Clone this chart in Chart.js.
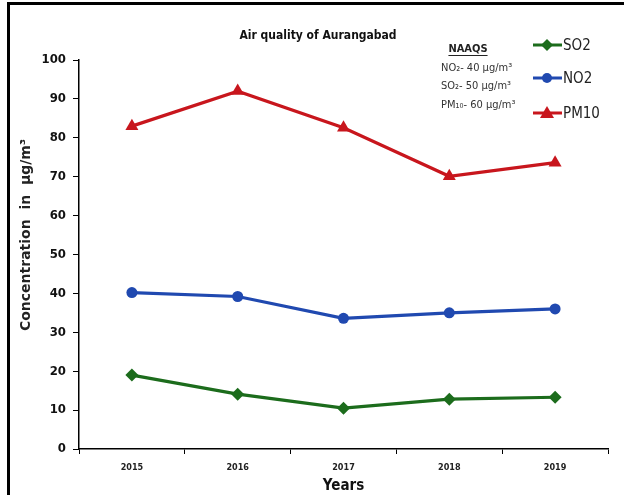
<!DOCTYPE html>
<html>
<head>
<meta charset="utf-8">
<script src="https://cdn.jsdelivr.net/npm/chart.js@4"></script>
<style>
  html, body { margin: 0; padding: 0; background: #fff; }
  #wrap { position: relative; width: 624px; height: 495px; }
  #frame { position: absolute; left: 7px; top: 2px; width: 617px; height: 493px;
           border-left: 3px solid #000; border-top: 3px solid #000; box-sizing: border-box; pointer-events: none; }
</style>
</head>
<body>
<div id="wrap">
  <canvas id="aqChart" width="624" height="495"></canvas>
  <div id="frame"></div>
</div>
<script>
const years = ['2015', '2016', '2017', '2018', '2019'];
const so2 = [19, 14.1, 10.5, 12.8, 13.3];
const no2 = [40.2, 39.2, 33.6, 35.0, 36.0];
const pm10 = [83, 92, 82.6, 70.1, 73.6];
const yTicks = [0, 100, 10];   // min, max, step
const naaqsLines = ['NO\u2082- 40 \u00b5g/m\u00b3', 'SO\u2082- 50 \u00b5g/m\u00b3', 'PM\u2081\u2080- 60 \u00b5g/m\u00b3'];

const narrow = "'Liberation Sans Narrow', 'DejaVu Sans Condensed', sans-serif";

// title, y axis title, NAAQS note and the legend in the top right corner
const extras = {
    id: 'extras',
    afterDraw(chart) {
        const ctx = chart.ctx;
        ctx.save();
        ctx.fillStyle = '#111';
        ctx.font = 'bold 12px ' + narrow;
        ctx.textAlign = 'center';
        ctx.textBaseline = 'middle';
        ctx.fillText('Air quality of Aurangabad', 318, 36);

        ctx.save();
        ctx.translate(26, 235);
        ctx.rotate(-Math.PI / 2);
        ctx.fillStyle = '#222';
        ctx.font = "bold 14px 'DejaVu Sans', sans-serif";
        ctx.fillText('Concentration  in  \u00b5g/m\u00b3', 0, 0);
        ctx.restore();

        ctx.font = 'bold 11px ' + narrow;
        ctx.fillStyle = '#222';
        ctx.fillText('NAAQS', 468, 49);
        const w = ctx.measureText('NAAQS').width;
        ctx.strokeStyle = '#222';
        ctx.lineWidth = 1;
        ctx.beginPath();
        ctx.moveTo(468 - w / 2, 55.5);
        ctx.lineTo(468 + w / 2, 55.5);
        ctx.stroke();

        ctx.font = '11px ' + narrow;
        ctx.fillStyle = '#333';
        ctx.textAlign = 'left';
        naaqsLines.forEach((t, i) => ctx.fillText(t, 441, 68 + i * 18.5));

        const legY = [45, 78, 113];
        chart.data.datasets.forEach((ds, i) => {
            const y = legY[i];
            ctx.strokeStyle = ds.borderColor;
            ctx.lineWidth = 3;
            ctx.beginPath();
            ctx.moveTo(533, y);
            ctx.lineTo(562, y);
            ctx.stroke();
            ctx.fillStyle = ds.borderColor;
            ctx.beginPath();
            if (ds.pointStyle === 'rectRot') {
                ctx.moveTo(547, y - 6); ctx.lineTo(553, y); ctx.lineTo(547, y + 6); ctx.lineTo(541, y);
            } else if (ds.pointStyle === 'triangle') {
                ctx.moveTo(547, y - 7); ctx.lineTo(554, y + 5); ctx.lineTo(540, y + 5);
            } else {
                ctx.arc(547, y, 5, 0, Math.PI * 2);
            }
            ctx.closePath();
            ctx.fill();
            ctx.fillStyle = '#222';
            ctx.font = '15px ' + narrow;
            ctx.fillText(ds.label, 563, y + 1);
        });
        ctx.restore();
    }
};

new Chart(document.getElementById('aqChart'), {
    type: 'line',
    data: {
        labels: years,
        datasets: [
            { label: 'SO2', data: so2, borderColor: '#1c6c1c', backgroundColor: '#1c6c1c',
              borderWidth: 3.2, pointStyle: 'rectRot', pointRadius: 6.5, pointBorderWidth: 0 },
            { label: 'NO2', data: no2, borderColor: '#2049b0', backgroundColor: '#2049b0',
              borderWidth: 3.2, pointStyle: 'circle', pointRadius: 5.5, pointBorderWidth: 0 },
            { label: 'PM10', data: pm10, borderColor: '#c8161d', backgroundColor: '#c8161d',
              borderWidth: 3.2, pointStyle: 'triangle', pointRadius: 7.5, pointBorderWidth: 0 }
        ]
    },
    options: {
        responsive: false,
        animation: false,
        layout: { padding: { left: 0, right: 16, top: 60, bottom: 0 } },
        plugins: {
            legend: { display: false },
            title: { display: false },
            tooltip: { enabled: false }
        },
        scales: {
            x: {
                offset: true,
                grid: { offset: true, drawOnChartArea: false, tickLength: 5, color: '#000' },
                border: { color: '#000', width: 1.5 },
                ticks: { color: '#222', padding: 8, font: { family: narrow, size: 9, weight: 'bold' } },
                title: { display: true, text: 'Years', color: '#111', padding: { top: 0, bottom: 0 },
                         font: { family: narrow, size: 15, weight: 'bold' } },
                afterFit: s => { s.height = 46; }
            },
            y: {
                min: yTicks[0],
                max: yTicks[1],
                grid: { drawOnChartArea: false, tickLength: 6, color: '#000' },
                border: { color: '#000', width: 1.5 },
                ticks: { stepSize: yTicks[2], color: '#111', padding: 7,
                         font: { family: narrow, size: 13, weight: 'bold' } },
                afterFit: s => { s.width = 79; }
            }
        }
    },
    plugins: [extras]
});
</script>
</body>
</html>
